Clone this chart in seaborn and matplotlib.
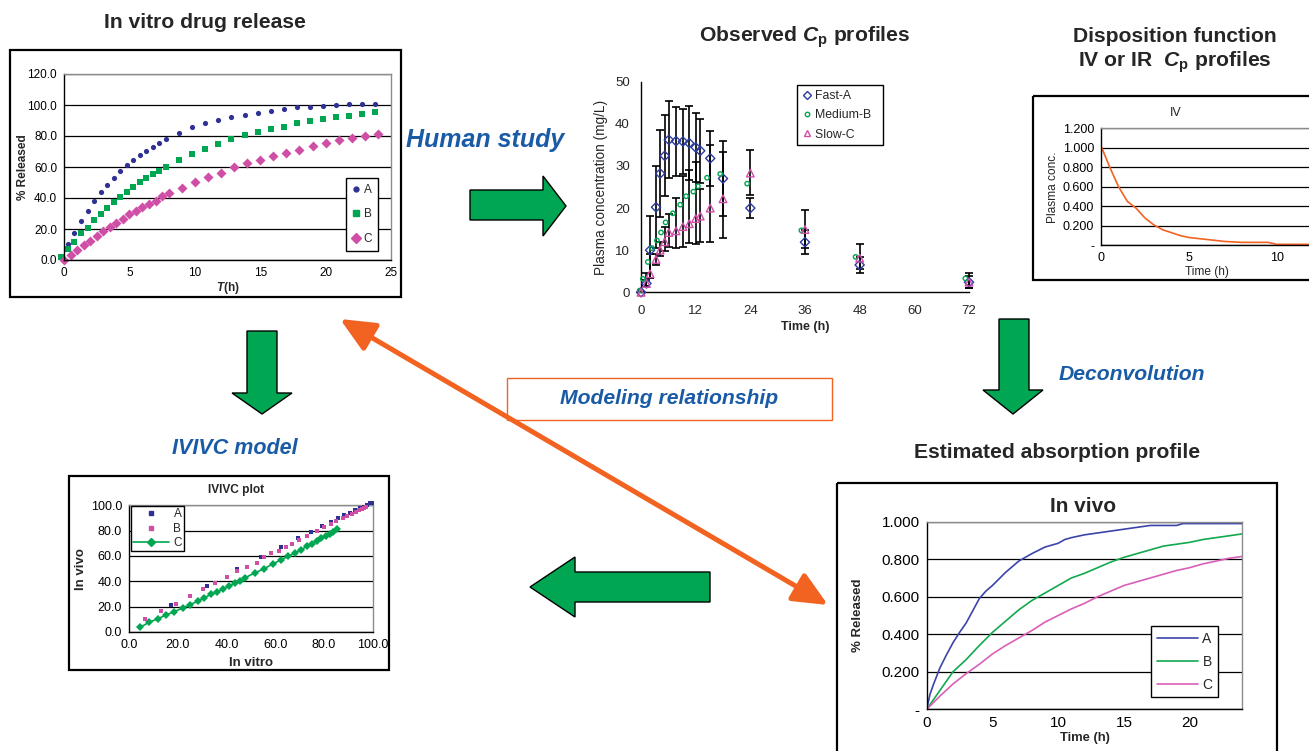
import numpy as np
import pandas as pd
import matplotlib
matplotlib.use("Agg")
import matplotlib.pyplot as plt
import seaborn as sns
from matplotlib.patches import Rectangle, Polygon, FancyArrowPatch, ArrowStyle
from matplotlib.ticker import FuncFormatter, MultipleLocator
from matplotlib.lines import Line2D

# ---------------- data ----------------
# In vitro drug release (% released vs T(h))
vitro_t_A = [0.3, 0.8, 1.3, 1.8, 2.3, 2.8, 3.3, 3.8, 4.3, 4.8, 5.3, 5.8, 6.3, 6.8, 7.3, 7.8,
             8.8, 9.8, 10.8, 11.8, 12.8, 13.8, 14.8, 15.8, 16.8, 17.8, 18.8, 19.8, 20.8, 21.8, 22.8, 23.8]
vitro_A = [10.6, 17.7, 25.3, 31.9, 38.0, 43.6, 48.1, 53.1, 57.2, 61.1, 64.5, 67.8, 70.6, 73.2, 75.8, 78.1,
           82.0, 85.5, 88.3, 90.2, 92.2, 93.7, 95.0, 96.3, 97.1, 98.4, 98.6, 99.3, 99.7, 100.4, 100.4, 100.4]
vitro_t_B = [-0.2, 0.3, 0.8, 1.3, 1.8, 2.3, 2.8, 3.3, 3.8, 4.3, 4.8, 5.3, 5.8, 6.3, 6.8, 7.3, 7.8,
             8.8, 9.8, 10.8, 11.8, 12.8, 13.8, 14.8, 15.8, 16.8, 17.8, 18.8, 19.8, 20.8, 21.8, 22.8, 23.8]
vitro_B = [1.7, 6.9, 11.7, 17.1, 20.9, 25.7, 30.0, 33.7, 37.6, 40.8, 44.0, 47.1, 50.5, 53.1, 55.5, 57.6, 60.2,
           64.5, 68.4, 71.9, 75.1, 77.9, 80.7, 82.7, 84.6, 86.1, 88.1, 89.4, 90.7, 92.2, 92.8, 94.1, 95.2]
vitro_t_C = [0.0, 0.5, 1.0, 1.5, 2.0, 2.5, 3.0, 3.5, 4.0, 4.5, 5.0, 5.5, 6.0, 6.5, 7.0, 7.5, 8.0,
             9, 10, 11, 12, 13, 14, 15, 16, 17, 18, 19, 20, 21, 22, 23, 24]
vitro_C = [0.0, 3.0, 6.3, 9.7, 12.3, 15.8, 18.6, 21.4, 23.7, 26.5, 29.6, 31.3, 34.1, 36.0, 38.2, 41.2, 43.0,
           46.2, 50.1, 53.7, 56.3, 59.8, 62.4, 64.5, 67.3, 69.1, 71.2, 73.6, 75.5, 77.1, 78.8, 80.1, 81.4]

# Observed Cp profiles (mg/L vs h)
plasma_t_A = [0, 1.2, 2.0, 3.3, 4.2, 5.2, 6.1, 7.7, 9.2, 10.6, 12.0, 13.0, 15.2, 18.0, 24.0, 36.0, 48.0, 72.0]
plasma_A = [0.0, 2.1, 10.0, 20.2, 28.2, 32.4, 36.2, 35.9, 35.8, 35.4, 34.4, 33.6, 31.8, 27.0, 20.0, 11.9, 6.5, 2.4]
plasma_A_lo = [0.0, 1.5, 3.5, 10.4, 17.9, 22.8, 27.1, 27.7, 28.2, 26.6, 26.2, 26.0, 25.2, 18.1, 17.7, 9.0, 4.6, 1.0]
plasma_A_hi = [0.0, 4.5, 18.1, 30.0, 38.5, 42.0, 45.3, 44.1, 43.4, 44.2, 42.6, 41.2, 38.4, 35.9, 22.3, 14.8, 8.4, 3.8]
plasma_t_B = [-0.3, 0.4, 1.5, 2.4, 3.5, 4.4, 5.4, 7.0, 8.6, 9.9, 11.5, 12.5, 14.5, 17.4, 23.3, 35.2, 47.1, 71.2]
plasma_B = [0.4, 3.2, 7.2, 10.5, 12.3, 14.2, 16.6, 18.75, 20.8, 22.8, 23.9, 25.2, 27.2, 28.1, 25.8, 14.7, 8.4, 3.3]
plasma_t_C = [0, 1.2, 2.0, 3.3, 4.2, 5.2, 6.1, 7.7, 9.2, 10.6, 12.0, 13.0, 15.2, 18.0, 24.0, 36.0, 48.0, 72.0]
plasma_C = [0.0, 2.1, 4.4, 7.8, 10.0, 12.0, 14.2, 14.6, 15.6, 16.3, 17.5, 18.1, 20.0, 22.2, 28.3, 14.9, 8.1, 2.4]
plasma_C_lo = [0.0, 1.5, 3.5, 6.6, 8.5, 9.8, 10.8, 10.5, 10.8, 11.8, 11.4, 12.0, 12.0, 13.0, 23.0, 10.5, 5.5, 1.0]
plasma_C_hi = [0.0, 3.0, 9.0, 9.0, 12.0, 15.5, 18.6, 22.5, 27.5, 29.0, 30.9, 24.5, 35.0, 33.4, 33.7, 19.5, 11.5, 4.5]

# IV disposition function
iv_t = [0, 0.5, 1, 1.5, 2, 2.5, 3, 3.5, 4, 4.5, 5, 6, 7, 8, 9, 9.5, 10, 12]
iv_c = [1.02, 0.80, 0.60, 0.45, 0.38, 0.28, 0.21, 0.16, 0.13, 0.10, 0.08, 0.06, 0.04, 0.03, 0.03, 0.03, 0.01, 0.01]

# IVIVC plot
ivivc_A_x = [17.2, 32.0, 44.2, 54.0, 62.4, 69.2, 74.6, 79.2, 82.8, 85.6, 88.4, 90.7, 92.6, 94.8, 96.4, 97.8, 98.9, 99.6]
ivivc_A_y = [21.6, 36.6, 49.5, 59.5, 67.4, 73.9, 79.2, 83.9, 87.1, 90.3, 92.4, 94.2, 96.1, 97.6, 98.9, 100.5, 101.6, 102.1]
ivivc_B_x = [6.6, 13.1, 19.3, 25.0, 30.2, 35.3, 40.1, 44.3, 48.4, 52.5, 55.5, 58.1, 61.4, 64.6, 67.0, 69.6, 73.2,
             77.0, 80.0, 82.8, 85.0, 87.7, 89.6, 91.5, 93.2, 94.5, 95.6, 96.4, 97.3]
ivivc_B_y = [10.0, 16.8, 22.4, 28.7, 33.9, 38.7, 43.2, 47.9, 51.6, 54.7, 58.9, 62.1, 63.9, 66.8, 69.5, 72.6, 75.8,
             79.7, 83.2, 85.5, 87.9, 90.3, 91.8, 93.4, 94.7, 96.1, 97.1, 98.2, 98.9]
ivivc_C_x = [4.5, 8.2, 11.9, 15.2, 18.6, 22.0, 25.0, 28.2, 30.9, 33.7, 36.3, 38.7, 41.0, 43.4, 45.6, 47.7, 51.8,
             55.5, 59.0, 62.2, 65.4, 68.1, 70.7, 73.0, 75.2, 77.2, 78.9, 80.7, 82.4, 83.9, 85.2]
ivivc_C_y = [3.7, 7.6, 10.5, 13.4, 16.1, 18.9, 21.6, 24.2, 27.1, 29.7, 31.6, 34.2, 36.1, 38.4, 40.3, 42.9, 46.8,
             50.0, 53.7, 56.8, 59.7, 62.6, 65.0, 67.6, 69.7, 72.1, 73.9, 75.8, 77.4, 79.2, 81.1]

# Estimated absorption profile (in vivo)
vivo_t_A = [0, 0.25, 0.5, 1, 1.5, 2, 2.5, 3, 4, 4.5, 5, 6, 7, 8, 9, 10, 10.5, 11, 12, 13, 14, 15, 16, 17, 18, 19, 19.5, 20, 24]
vivo_A = [0, 0.08, 0.13, 0.22, 0.29, 0.355, 0.41, 0.46, 0.59, 0.63, 0.66, 0.73, 0.79, 0.83, 0.865, 0.885, 0.905,
          0.915, 0.93, 0.94, 0.95, 0.96, 0.97, 0.98, 0.98, 0.98, 0.99, 0.99, 0.99]
vivo_t = [0, 1, 2, 3, 4, 5, 6, 7, 8, 9, 10, 11, 12, 13, 14, 15, 16, 17, 18, 19, 20, 21, 22, 23, 24]
vivo_B = [0, 0.10, 0.20, 0.265, 0.34, 0.41, 0.47, 0.53, 0.58, 0.62, 0.66, 0.70, 0.725, 0.755, 0.785, 0.81, 0.83,
          0.85, 0.87, 0.88, 0.89, 0.905, 0.915, 0.925, 0.935]
vivo_C = [0, 0.07, 0.135, 0.19, 0.24, 0.295, 0.34, 0.38, 0.42, 0.465, 0.50, 0.535, 0.565, 0.60, 0.63, 0.66, 0.68,
          0.70, 0.72, 0.74, 0.755, 0.775, 0.79, 0.805, 0.815]

# ---------------- style ----------------
sns.set_theme(style="white")
plt.rcParams['font.family'] = ['Liberation Sans', 'DejaVu Sans']
plt.rcParams['mathtext.fontset'] = 'custom'
plt.rcParams['mathtext.it'] = 'Liberation Sans:italic:bold'
plt.rcParams['mathtext.rm'] = 'Liberation Sans:bold'
plt.rcParams['mathtext.bf'] = 'Liberation Sans:bold'

W, H = 1309, 751
fig = plt.figure(figsize=(W / 100, H / 100), dpi=100)
fig.patch.set_facecolor('white')

NAVY = '#2e3192'
GREEN = '#00a651'
PINK = '#cf4ea6'
BLUE_TXT = '#1a5ba6'
ORANGE = '#f26322'


def px_axes(x0, y0, x1, y1):
    return fig.add_axes([x0 / W, 1 - y1 / H, (x1 - x0) / W, (y1 - y0) / H])


def excel_box(ax, grid_color='black'):
    for s in ['left', 'bottom']:
        ax.spines[s].set_color('black')
        ax.spines[s].set_linewidth(1.0)
    for s in ['top', 'right']:
        ax.spines[s].set_color('#8c8c8c')
        ax.spines[s].set_linewidth(1.0)
    ax.yaxis.grid(True, color=grid_color, linewidth=0.9)
    ax.xaxis.grid(False)
    ax.set_axisbelow(True)
    ax.tick_params(direction='out', length=3, width=0.8, colors='black', pad=2)


def legend_at(ax, handles, labels, x, y, **kw):
    lg = ax.legend(handles, labels, loc='upper left', bbox_to_anchor=(x / W, 1 - y / H),
                   bbox_transform=fig.transFigure, borderaxespad=0, fancybox=False,
                   edgecolor='black', framealpha=1, **kw)
    lg.get_frame().set_linewidth(1.0)
    return lg


dash = FuncFormatter(lambda v, p: '-' if abs(v) < 1e-9 else f'{v:.3f}')
TITLE = 15.2

# ---------- In vitro panel ----------
ax1 = px_axes(64, 74, 391, 260)
sns.scatterplot(x=vitro_t_A, y=vitro_A, ax=ax1, color=NAVY, marker='o', s=14, linewidth=0, clip_on=False)
sns.scatterplot(x=vitro_t_B, y=vitro_B, ax=ax1, color=GREEN, marker='s', s=16, linewidth=0, clip_on=False)
sns.scatterplot(x=vitro_t_C, y=vitro_C, ax=ax1, color=PINK, marker='D', s=26, linewidth=0, clip_on=False)
ax1.set_xlim(0, 25)
ax1.set_ylim(0, 120)
ax1.xaxis.set_major_locator(MultipleLocator(5))
ax1.yaxis.set_major_locator(MultipleLocator(20))
ax1.yaxis.set_major_formatter(FuncFormatter(lambda v, p: f'{v:.1f}'))
excel_box(ax1)
ax1.tick_params(labelsize=8.5)
ax1.set_xlabel('$T$(h)', fontsize=8.5, fontweight='bold', labelpad=1)
ax1.set_ylabel('% Released', fontsize=8.5, fontweight='bold', labelpad=-1)
h1 = [Line2D([], [], ls='none', marker='o', color=NAVY, ms=3.5),
      Line2D([], [], ls='none', marker='s', color=GREEN, ms=3.8),
      Line2D([], [], ls='none', marker='D', color=PINK, ms=5)]
legend_at(ax1, h1, ['A', 'B', 'C'], 346, 178, fontsize=8.5, labelspacing=1.05,
          handlelength=0.7, handletextpad=0.3, borderpad=0.5)

# ---------- Observed Cp panel ----------
ax2 = px_axes(641, 81.7, 969, 292.3)
ax2.errorbar(plasma_t_A, plasma_A,
             yerr=[np.array(plasma_A) - np.array(plasma_A_lo), np.array(plasma_A_hi) - np.array(plasma_A)],
             fmt='none', ecolor='black', elinewidth=1.2, capsize=3, capthick=1.2, clip_on=False)
ax2.errorbar(plasma_t_C, plasma_C,
             yerr=[np.array(plasma_C) - np.array(plasma_C_lo), np.array(plasma_C_hi) - np.array(plasma_C)],
             fmt='none', ecolor='black', elinewidth=1.2, capsize=3, capthick=1.2, clip_on=False)
sns.scatterplot(x=plasma_t_A, y=plasma_A, ax=ax2, marker='D', s=22, facecolor='none', edgecolor='#2b3aa0',
                linewidth=1.0, clip_on=False, zorder=3)
sns.scatterplot(x=plasma_t_B, y=plasma_B, ax=ax2, marker='o', s=10, facecolor='none', edgecolor=GREEN,
                linewidth=1.0, clip_on=False, zorder=3)
sns.scatterplot(x=plasma_t_C, y=plasma_C, ax=ax2, marker='^', s=30, facecolor='none', edgecolor=PINK,
                linewidth=1.0, clip_on=False, zorder=3)
ax2.set_xlim(0, 72)
ax2.set_ylim(0, 50)
ax2.set_xticks([0, 12, 24, 36, 48, 60, 72])
ax2.yaxis.set_major_locator(MultipleLocator(10))
for s in ['top', 'right']:
    ax2.spines[s].set_visible(False)
for s in ['left', 'bottom']:
    ax2.spines[s].set_color('black')
    ax2.spines[s].set_linewidth(1.0)
ax2.tick_params(direction='out', length=3, width=0.8, labelsize=9.5)
ax2.tick_params(axis='x', pad=6)
ax2.tick_params(axis='y', pad=5)
ax2.set_xlabel('Time (h)', fontsize=9, fontweight='bold', labelpad=3)
ax2.set_ylabel('Plasma concentration (mg/L)', fontsize=9.8, labelpad=5)
h2 = [Line2D([], [], ls='none', marker='D', mfc='none', mec='#2b3aa0', ms=4.5, mew=1.0),
      Line2D([], [], ls='none', marker='o', mfc='none', mec=GREEN, ms=3.2, mew=1.0),
      Line2D([], [], ls='none', marker='^', mfc='none', mec=PINK, ms=5, mew=1.0)]
legend_at(ax2, h2, ['Fast-A    ', 'Medium-B  ', 'Slow-C    '], 797, 85, fontsize=8.8, labelspacing=0.6,
          handlelength=0.8, handletextpad=0.3, borderpad=0.4)

# ---------- IV disposition panel ----------
ax3 = px_axes(1101, 128.3, 1312, 245.3)
sns.lineplot(x=iv_t, y=iv_c, ax=ax3, color=ORANGE, linewidth=1.2, sort=False, estimator=None)
ax3.set_xlim(0, 12)
ax3.set_ylim(0, 1.2)
ax3.set_xticks([0, 5, 10])
ax3.yaxis.set_major_locator(MultipleLocator(0.2))
ax3.yaxis.set_major_formatter(dash)
excel_box(ax3)
ax3.tick_params(labelsize=9)
ax3.set_xlabel('Time (h)', fontsize=8.6, labelpad=1)
ax3.set_ylabel('Plasma conc.', fontsize=8.6, labelpad=3)

# ---------- IVIVC panel ----------
ax4 = px_axes(129, 505.3, 372.7, 632)
sns.scatterplot(x=ivivc_A_x, y=ivivc_A_y, ax=ax4, color=NAVY, marker='s', s=9, linewidth=0, clip_on=False, zorder=3)
sns.scatterplot(x=ivivc_B_x, y=ivivc_B_y, ax=ax4, color=PINK, marker='s', s=12, linewidth=0, clip_on=False, zorder=3)
sns.lineplot(x=ivivc_C_x, y=ivivc_C_y, ax=ax4, color=GREEN, marker='D', markersize=4.5, markeredgewidth=0,
             linewidth=1.2, sort=False, estimator=None, zorder=2)
ax4.set_xlim(0, 100)
ax4.set_ylim(0, 100)
ax4.xaxis.set_major_locator(MultipleLocator(20))
ax4.yaxis.set_major_locator(MultipleLocator(20))
fmt1 = FuncFormatter(lambda v, p: f'{v:.1f}')
ax4.xaxis.set_major_formatter(fmt1)
ax4.yaxis.set_major_formatter(fmt1)
excel_box(ax4)
ax4.tick_params(labelsize=9)
ax4.set_xlabel('In vitro', fontsize=9.5, fontweight='bold', labelpad=4)
ax4.set_ylabel('In vivo', fontsize=9.5, fontweight='bold', labelpad=3)
h4 = [Line2D([], [], ls='none', marker='s', color=NAVY, ms=2.8),
      Line2D([], [], ls='none', marker='s', color=PINK, ms=3.2),
      Line2D([], [], ls='-', marker='D', color=GREEN, ms=4, lw=1.2)]
legend_at(ax4, h4, ['A', 'B', 'C'], 131, 506, fontsize=8.5, labelspacing=0.2,
          handlelength=3.0, handletextpad=0.4, borderpad=0.2)

# ---------- In vivo panel ----------
ax5 = px_axes(926.7, 521.7, 1242.3, 709.3)
sns.lineplot(x=vivo_t_A, y=vivo_A, ax=ax5, color='#3b44a8', linewidth=1.2, sort=False, estimator=None)
sns.lineplot(x=vivo_t, y=vivo_B, ax=ax5, color='#12a84e', linewidth=1.2, sort=False, estimator=None)
sns.lineplot(x=vivo_t, y=vivo_C, ax=ax5, color='#d95fb8', linewidth=1.2, sort=False, estimator=None)
ax5.set_xlim(0, 24)
ax5.set_ylim(0, 1.0)
ax5.set_xticks([0, 5, 10, 15, 20])
ax5.yaxis.set_major_locator(MultipleLocator(0.2))
ax5.yaxis.set_major_formatter(dash)
excel_box(ax5)
ax5.tick_params(labelsize=11)
ax5.set_xlabel('Time (h)', fontsize=9.4, fontweight='bold', labelpad=1)
ax5.set_ylabel('% Released', fontsize=9.5, fontweight='bold', labelpad=13)
h5 = [Line2D([], [], color='#3b44a8', lw=1.2), Line2D([], [], color='#12a84e', lw=1.2),
      Line2D([], [], color='#d95fb8', lw=1.2)]
legend_at(ax5, h5, ['A', 'B', 'C'], 1151, 626, fontsize=10, labelspacing=0.65,
          handlelength=3.0, handletextpad=0.3, borderpad=0.4)

# ---------- overlay: frames, arrows, texts ----------
ov = fig.add_axes([0, 0, 1, 1])
ov.set_xlim(0, W)
ov.set_ylim(H, 0)
ov.axis('off')
ov.patch.set_alpha(0)
ov.set_zorder(10)

for (x0, y0, x1, y1) in [(10, 50, 401, 297), (1033, 96, 1330, 280), (69, 476, 389, 670), (837, 483, 1277, 770)]:
    ov.add_patch(Rectangle((x0, y0), x1 - x0, y1 - y0, fill=False, edgecolor='black', linewidth=1.6))

arrows = [
    [(470, 190), (543, 190), (543, 176), (566, 206), (543, 236), (543, 220), (470, 220)],
    [(247, 331), (277, 331), (277, 393), (292, 393), (262, 414), (232, 393), (247, 393)],
    [(999, 319), (1029, 319), (1029, 390), (1043, 390), (1013, 414), (983, 390), (999, 390)],
    [(710, 572), (575, 572), (575, 557), (530, 587), (575, 617), (575, 602), (710, 602)],
]
for pts in arrows:
    ov.add_patch(Polygon(pts, closed=True, facecolor=GREEN, edgecolor='black', linewidth=1.0))

ov.add_patch(Rectangle((507, 378), 325, 42, fill=True, facecolor='white', edgecolor=ORANGE, linewidth=1.0))
ov.text(669, 399, 'Modeling relationship', color=BLUE_TXT, fontsize=15.2, fontweight='bold',
        fontstyle='italic', ha='center', va='center')

ov.add_patch(FancyArrowPatch((340, 319), (828, 605),
                             arrowstyle=ArrowStyle('<|-|>', head_length=2.1, head_width=0.95),
                             mutation_scale=10, color=ORANGE, linewidth=3.6, shrinkA=0, shrinkB=0))

ov.text(205, 22, 'In vitro drug release', fontsize=TITLE, fontweight='bold', ha='center', va='center')
ov.text(805, 37, 'Observed $C_{\\mathrm{p}}$ profiles', fontsize=TITLE, fontweight='bold', ha='center', va='center')
ov.text(1175, 36, 'Disposition function', fontsize=TITLE, fontweight='bold', ha='center', va='center')
ov.text(1175, 62, 'IV or IR  $C_{\\mathrm{p}}$ profiles', fontsize=TITLE, fontweight='bold', ha='center', va='center')
ov.text(1057, 452, 'Estimated absorption profile', fontsize=TITLE, fontweight='bold', ha='center', va='center')
ov.text(485, 140, 'Human study', color=BLUE_TXT, fontsize=18, fontweight='bold', fontstyle='italic',
        ha='center', va='center')
ov.text(1132, 374, 'Deconvolution', color=BLUE_TXT, fontsize=15.2, fontweight='bold', fontstyle='italic',
        ha='center', va='center')
ov.text(235, 449, 'IVIVC model', color=BLUE_TXT, fontsize=15.5, fontweight='bold', fontstyle='italic',
        ha='center', va='center')
ov.text(1176, 113, 'IV', fontsize=9, ha='center', va='center')
ov.text(236, 490, 'IVIVC plot', fontsize=8.6, fontweight='bold', ha='center', va='center')
ov.text(1083, 506, 'In vivo', fontsize=15, fontweight='bold', ha='center', va='center')

fig.savefig('out.png', dpi=100)
